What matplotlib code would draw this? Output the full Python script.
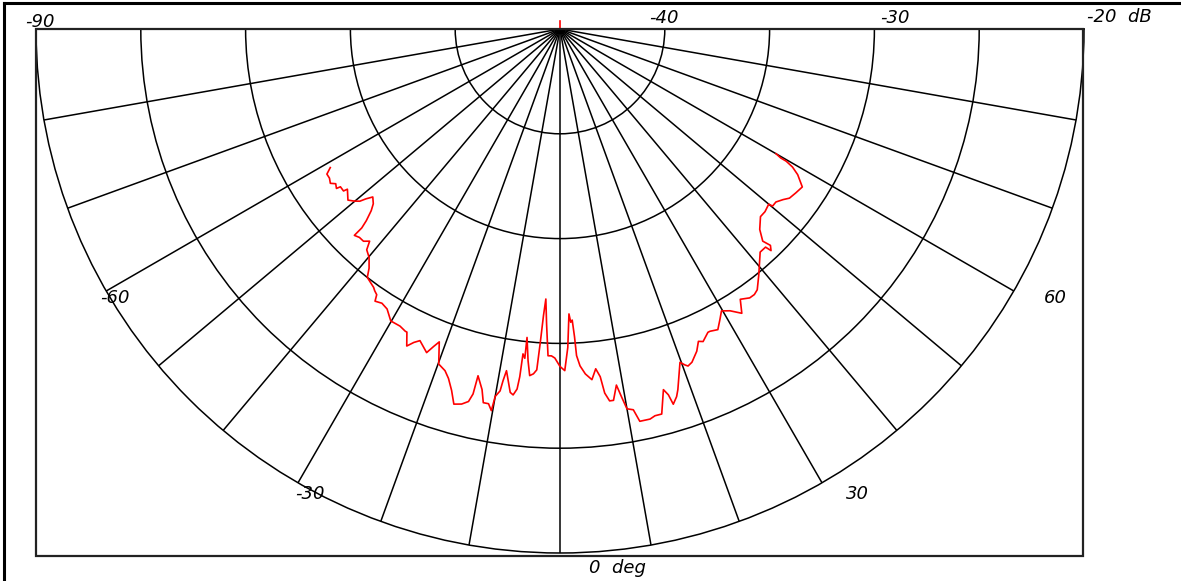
import numpy as np
import matplotlib
matplotlib.use("Agg")
import matplotlib.pyplot as plt
from matplotlib.lines import Line2D
from matplotlib.patches import Rectangle

# ---- data (angle in degrees, level in dB) ----
angle_deg = [-58.9, -58.1, -57.1, -56.1, -55.4, -54.5, -54.3, -53.2, -53.0, -51.1,
             -50.1, -49.3, -48.8, -48.1, -46.9, -46.1, -45.3, -44.9, -44.9, -43.9,
             -42.8, -41.9, -41.2, -39.9, -38.6, -37.8, -35.8, -35.3, -34.6, -34.2,
             -33.0, -31.7, -30.1, -29.5, -28.3, -27.1, -26.8, -25.8, -25.0, -24.2,
             -22.4, -21.7, -21.1, -19.9, -18.6, -17.7, -16.7, -15.8, -14.7, -13.8,
             -13.4, -13.3, -12.2, -11.6, -10.8, -10.2, -10.0, -9.4, -9.2, -8.9,
             -7.8, -7.3, -6.8, -6.6, -6.5, -6.1, -6.1, -5.5, -5.0, -4.4,
             -3.9, -3.6, -3.3, -3.0, -2.6, -2.1, -1.5, -0.9, 0.0, 0.8,
             1.4, 1.8, 2.1, 2.4, 2.7, 2.9, 3.4, 4.2, 5.2, 6.0,
             6.6, 7.0, 7.6, 8.2, 9.0, 9.5, 10.0, 10.9, 11.5, 12.3,
             13.0, 13.8, 14.8, 16.0, 16.5, 16.8, 17.6, 18.1, 19.8, 20.4,
             20.8, 21.6, 23.0, 23.9, 24.6, 26.0, 26.4, 27.7, 28.9, 29.8,
             31.1, 32.6, 33.7, 35.2, 36.2, 37.1, 38.9, 41.9, 43.3, 43.6,
             44.2, 43.7, 44.9, 46.9, 48.3, 50.0, 50.2, 51.3, 52.6, 53.6,
             55.2, 56.9, 58.5, 59.3, 59.7, 59.7, 60.0]

level_db = [-32.2, -31.9, -31.9, -31.8, -32.0, -31.9, -32.1, -32.1, -32.3, -32.0,
            -32.2, -32.4, -32.7, -33.0, -32.8, -32.5, -32.0, -31.6, -31.1, -31.2,
            -31.2, -31.4, -31.0, -30.8, -30.4, -30.0, -29.8, -29.7, -29.6, -29.3,
            -29.4, -29.3, -28.9, -28.9, -28.9, -28.8, -28.8, -28.2, -28.5, -28.7,
            -28.3, -28.7, -29.0, -28.0, -27.8, -27.5, -27.0, -26.4, -26.5, -26.7,
            -27.1, -28.0, -27.4, -26.8, -26.8, -26.5, -27.2, -27.5, -28.0, -28.5,
            -27.5, -27.4, -27.7, -28.3, -29.4, -29.2, -30.2, -29.1, -28.4, -28.5,
            -28.7, -30.0, -31.3, -32.1, -30.9, -29.4, -29.4, -29.3, -28.9, -28.7,
            -29.8, -31.4, -31.0, -31.1, -30.3, -29.4, -28.9, -28.5, -28.2, -28.7,
            -28.3, -27.5, -27.1, -27.1, -27.8, -27.2, -26.6, -26.5, -25.9, -25.9,
            -25.9, -26.0, -26.0, -27.1, -26.8, -26.3, -26.6, -26.9, -28.1, -27.9,
            -27.8, -27.9, -28.3, -28.7, -28.6, -28.9, -28.9, -28.8, -29.2, -29.5,
            -29.3, -28.9, -29.5, -29.3, -29.3, -29.4, -29.9, -30.7, -30.7, -30.4,
            -30.6, -31.0, -31.5, -31.9, -31.9, -32.0, -31.8, -31.8, -31.6, -31.4,
            -31.3, -31.2, -31.7, -32.1, -32.5, -32.8, -33.1]

r_min, r_max = -45, -20
ring_levels = [-40, -35, -30, -25]
spoke_angles = list(range(-90, 91, 10))

radial_labels = ["-40", "-30", "-20  dB"]
angle_labels = ["-90", "-60", "-30", "0  deg", "30", "60"]

# ---- figure ----
W, H = 1181, 581
fig = plt.figure(figsize=(W / 100, H / 100), dpi=100)
fig.patch.set_facecolor("white")


def fx(x):
    return x / W


def fy(y):
    return 1 - y / H


# half-disc: centre (560, 29) px, radius 524 px.  matplotlib pads the wedge
# bbox to a square, so the axes square spans 0.5R above to 1.5R below centre.
cx, cy, R = 560, 29, 524
ax = fig.add_axes([fx(cx - R), fy(cy + 1.5 * R), 2 * R / W, 2 * R / H],
                  projection="polar")
ax.set_theta_zero_location("S")
ax.set_theta_direction(1)
ax.set_thetamin(-90)
ax.set_thetamax(90)
ax.set_rlim(r_min, r_max)
ax.set_thetagrids(spoke_angles, labels=[""] * len(spoke_angles))
ax.set_rgrids(ring_levels, labels=[""] * len(ring_levels))
ax.tick_params(length=0)
ax.grid(True, color="black", linewidth=1.1, linestyle="-")
for sp in ax.spines.values():
    sp.set_color("black")
    sp.set_linewidth(1.1)

ax.plot(np.deg2rad(angle_deg), level_db, color="red", linewidth=1.2, zorder=5)

# inner frame
fig.add_artist(Rectangle((fx(36), fy(556)), (1083 - 36) / W, (556 - 29) / H,
                         transform=fig.transFigure, fill=False,
                         edgecolor="#222222", linewidth=1.6, zorder=10))
# outer border (top and left)
fig.add_artist(Line2D([fx(4), fx(4)], [0, fy(3)], transform=fig.transFigure,
                      color="black", linewidth=2.2))
fig.add_artist(Line2D([fx(4), 1], [fy(3), fy(3)], transform=fig.transFigure,
                      color="black", linewidth=2.2))
# red marker at top
fig.add_artist(Line2D([fx(560), fx(560)], [fy(21), fy(29)], transform=fig.transFigure,
                      color="red", linewidth=1.2))

tkw = dict(fontsize=13, style="italic", family="DejaVu Sans", color="black",
           ha="left", va="center")
# radial scale labels
for txt, (x, y) in zip(radial_labels, [(649, 18), (880, 18), (1087, 17)]):
    fig.text(fx(x), fy(y), txt, **tkw)
# angle labels
for txt, (x, y) in zip(angle_labels, [(25, 22), (100, 298), (295, 494),
                                      (589, 568), (846, 494), (1044, 298)]):
    fig.text(fx(x), fy(y), txt, **tkw)

fig.savefig("out.png", dpi=100)
